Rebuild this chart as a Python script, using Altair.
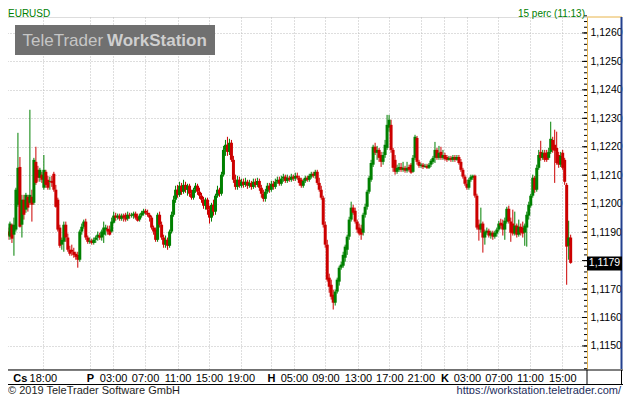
import altair as alt
import pandas as pd

# ---------------- data (EURUSD, 15-minute candles) ----------------
open_ = [
 1.11902,1.11884,1.11926,1.11891,1.11909,1.11996,1.12129,1.11926,1.12014,1.11979,
 1.12024,1.12003,1.12024,1.12003,1.12147,1.12119,1.12091,1.12102,1.12056,1.12112,
 1.12084,1.12077,1.12080,1.12105,1.12049,1.12014,1.11916,1.11856,1.11866,1.11926,
 1.11881,1.11838,1.11838,1.11831,1.11824,1.11820,1.11803,1.11902,1.11919,1.11937,
 1.11881,1.11866,1.11870,1.11862,1.11873,1.11881,1.11888,1.11881,1.11891,1.11909,
 1.11912,1.11909,1.11902,1.11933,1.11958,1.11951,1.11958,1.11947,1.11958,1.11961,
 1.11947,1.11961,1.11958,1.11958,1.11965,1.11954,1.11944,1.11958,1.11965,1.11975,
 1.11968,1.11961,1.11951,1.11916,1.11909,1.11873,1.11961,1.11926,1.11881,1.11856,
 1.11873,1.11852,1.11902,1.11961,1.12014,1.12049,1.12031,1.12063,1.12042,1.12066,
 1.12049,1.12063,1.12035,1.12021,1.12049,1.12063,1.12042,1.12028,1.12014,1.11993,
 1.12014,1.11979,1.11951,1.11996,1.11972,1.12028,1.12049,1.12035,1.12102,1.12189,
 1.12207,1.12182,1.12214,1.12154,1.12084,1.12059,1.12084,1.12063,1.12077,1.12066,
 1.12077,1.12063,1.12073,1.12059,1.12077,1.12066,1.12080,1.12056,1.12035,1.12017,
 1.12042,1.12063,1.12049,1.12070,1.12059,1.12077,1.12084,1.12070,1.12088,1.12095,
 1.12080,1.12091,1.12084,1.12095,1.12088,1.12098,1.12091,1.12084,1.12063,1.12080,
 1.12091,1.12084,1.12095,1.12105,1.12098,1.12112,1.12073,1.12049,1.12021,1.11926,
 1.11856,1.11740,1.11715,1.11680,1.11652,1.11691,1.11726,1.11775,1.11782,1.11810,
 1.11838,1.11884,1.11944,1.11986,1.11975,1.11937,1.11916,1.11912,1.11898,1.11961,
 1.11989,1.12042,1.12084,1.12137,1.12200,1.12179,1.12189,1.12171,1.12147,1.12171,
 1.12196,1.12267,1.12277,1.12189,1.12154,1.12112,1.12119,1.12129,1.12119,1.12126,
 1.12116,1.12129,1.12137,1.12112,1.12161,1.12231,1.12147,1.12133,1.12137,1.12129,
 1.12133,1.12126,1.12137,1.12147,1.12161,1.12189,1.12161,1.12182,1.12161,1.12171,
 1.12164,1.12154,1.12161,1.12154,1.12164,1.12154,1.12164,1.12147,1.12119,1.12095,
 1.12070,1.12056,1.12084,1.12091,1.12098,1.12028,1.11926,1.11909,1.11930,1.11881,
 1.11898,1.11905,1.11888,1.11898,1.11884,1.11895,1.11909,1.11933,1.11930,1.11909,
 1.11937,1.11982,1.11937,1.11930,1.11895,1.11923,1.11891,1.11919,1.11916,1.11898,
 1.11916,1.11958,1.11993,1.12028,1.12091,1.12049,1.12126,1.12182,1.12161,1.12179,
 1.12179,1.12161,1.12182,1.12224,1.12207,1.12196,1.12171,1.12137,1.12179,1.12154,
 1.12066,1.11852,1.11881]
high = [
 1.11916,1.11937,1.11930,1.11951,1.12056,1.12249,1.12164,1.12031,1.12031,1.12038,
 1.12031,1.12330,1.12049,1.12161,1.12200,1.12133,1.12126,1.12112,1.12171,1.12119,
 1.12098,1.12095,1.12098,1.12112,1.12066,1.12021,1.11926,1.11881,1.11937,1.11937,
 1.11895,1.11852,1.11856,1.11845,1.11831,1.11831,1.11909,1.11930,1.11944,1.11947,
 1.11888,1.11881,1.11877,1.11881,1.11888,1.11902,1.11898,1.11909,1.11937,1.11926,
 1.11923,1.11923,1.11951,1.11972,1.11968,1.11965,1.11965,1.11965,1.11965,1.11968,
 1.11972,1.11968,1.11968,1.11972,1.11972,1.11965,1.11965,1.11975,1.11982,1.11982,
 1.11979,1.11968,1.11958,1.11923,1.11916,1.11968,1.11972,1.11937,1.11891,1.11888,
 1.11881,1.11909,1.11972,1.12028,1.12063,1.12066,1.12077,1.12073,1.12084,1.12077,
 1.12070,1.12070,1.12049,1.12056,1.12073,1.12070,1.12056,1.12038,1.12024,1.12021,
 1.12021,1.11993,1.12003,1.12014,1.12035,1.12063,1.12056,1.12112,1.12203,1.12224,
 1.12235,1.12228,1.12224,1.12168,1.12102,1.12098,1.12095,1.12088,1.12088,1.12091,
 1.12084,1.12084,1.12080,1.12088,1.12088,1.12091,1.12088,1.12066,1.12049,1.12052,
 1.12073,1.12073,1.12080,1.12080,1.12088,1.12095,1.12095,1.12098,1.12105,1.12102,
 1.12102,1.12098,1.12105,1.12102,1.12109,1.12109,1.12098,1.12091,1.12088,1.12098,
 1.12098,1.12105,1.12112,1.12112,1.12119,1.12119,1.12091,1.12063,1.12028,1.11937,
 1.11873,1.11754,1.11733,1.11698,1.11698,1.11740,1.11782,1.11796,1.11831,1.11856,
 1.11891,1.11954,1.12007,1.11996,1.11986,1.11944,1.11930,1.11926,1.11968,1.12000,
 1.12049,1.12098,1.12154,1.12207,1.12214,1.12203,1.12196,1.12182,1.12182,1.12224,
 1.12312,1.12312,1.12295,1.12196,1.12171,1.12137,1.12143,1.12143,1.12147,1.12133,
 1.12147,1.12137,1.12143,1.12171,1.12242,1.12238,1.12154,1.12143,1.12143,1.12140,
 1.12140,1.12143,1.12157,1.12168,1.12217,1.12196,1.12203,1.12200,1.12189,1.12179,
 1.12171,1.12168,1.12168,1.12171,1.12171,1.12171,1.12171,1.12157,1.12126,1.12102,
 1.12084,1.12091,1.12102,1.12102,1.12102,1.12035,1.11944,1.11986,1.11937,1.11909,
 1.11916,1.11912,1.11905,1.11905,1.11905,1.11916,1.11940,1.11947,1.11944,1.11951,
 1.11989,1.11993,1.11951,1.11979,1.11972,1.11930,1.11944,1.11930,1.11937,1.11930,
 1.11972,1.12007,1.12035,1.12102,1.12098,1.12137,1.12189,1.12221,1.12189,1.12189,
 1.12189,1.12196,1.12288,1.12235,1.12260,1.12253,1.12182,1.12182,1.12189,1.12161,
 1.12073,1.11940,1.11891]
low = [
 1.11873,1.11873,1.11862,1.11817,1.11902,1.11989,1.11916,1.11881,1.11944,1.11968,
 1.11972,1.11996,1.11937,1.11996,1.12066,1.12077,1.12077,1.12073,1.12049,1.12056,
 1.12049,1.12049,1.12059,1.12042,1.11986,1.11902,1.11845,1.11838,1.11831,1.11866,
 1.11831,1.11817,1.11817,1.11810,1.11803,1.11775,1.11796,1.11891,1.11912,1.11873,
 1.11859,1.11859,1.11856,1.11856,1.11862,1.11870,1.11873,1.11870,1.11862,1.11888,
 1.11891,1.11888,1.11898,1.11930,1.11940,1.11944,1.11940,1.11940,1.11937,1.11937,
 1.11940,1.11947,1.11951,1.11947,1.11944,1.11937,1.11937,1.11951,1.11958,1.11961,
 1.11954,1.11937,1.11909,1.11891,1.11866,1.11866,1.11916,1.11873,1.11845,1.11845,
 1.11838,1.11845,1.11895,1.11954,1.12003,1.12021,1.12024,1.12031,1.12035,1.12038,
 1.12028,1.12024,1.12014,1.12014,1.12038,1.12031,1.12017,1.12003,1.11982,1.11979,
 1.11961,1.11930,1.11937,1.11958,1.11961,1.12021,1.12024,1.12028,1.12095,1.12168,
 1.12168,1.12171,1.12147,1.12073,1.12049,1.12049,1.12056,1.12056,1.12056,1.12059,
 1.12052,1.12056,1.12049,1.12052,1.12056,1.12059,1.12045,1.12021,1.12007,1.12007,
 1.12035,1.12038,1.12042,1.12049,1.12052,1.12070,1.12063,1.12063,1.12077,1.12073,
 1.12073,1.12077,1.12077,1.12080,1.12080,1.12084,1.12063,1.12056,1.12056,1.12073,
 1.12077,1.12077,1.12088,1.12091,1.12088,1.12066,1.12042,1.12014,1.11916,1.11845,
 1.11726,1.11687,1.11663,1.11628,1.11642,1.11684,1.11712,1.11768,1.11775,1.11796,
 1.11820,1.11873,1.11937,1.11961,1.11930,1.11898,1.11888,1.11873,1.11888,1.11951,
 1.11979,1.12035,1.12077,1.12129,1.12171,1.12154,1.12147,1.12129,1.12137,1.12161,
 1.12189,1.12253,1.12179,1.12112,1.12102,1.12105,1.12112,1.12112,1.12112,1.12109,
 1.12109,1.12112,1.12105,1.12109,1.12154,1.12137,1.12126,1.12126,1.12122,1.12126,
 1.12122,1.12122,1.12129,1.12140,1.12143,1.12154,1.12154,1.12154,1.12154,1.12151,
 1.12147,1.12151,1.12147,1.12147,1.12147,1.12151,1.12137,1.12112,1.12088,1.12063,
 1.12049,1.12049,1.12077,1.12084,1.12021,1.11909,1.11870,1.11898,1.11828,1.11856,
 1.11891,1.11881,1.11877,1.11873,1.11877,1.11884,1.11902,1.11912,1.11888,1.11873,
 1.11930,1.11930,1.11866,1.11888,1.11888,1.11881,1.11884,1.11888,1.11881,1.11852,
 1.11849,1.11944,1.11986,1.12021,1.12038,1.12042,1.12119,1.12151,1.12154,1.12147,
 1.12147,1.12154,1.12175,1.12179,1.12073,1.12137,1.12126,1.12129,1.12119,1.12066,
 1.11715,1.11803,1.11789]
close = [
 1.11888,1.11930,1.11877,1.11926,1.12049,1.12126,1.11919,1.12014,1.11961,1.12031,
 1.11986,1.12031,1.11996,1.12154,1.12073,1.12091,1.12119,1.12084,1.12119,1.12066,
 1.12056,1.12080,1.12073,1.12049,1.11989,1.11909,1.11852,1.11873,1.11926,1.11881,
 1.11838,1.11824,1.11831,1.11820,1.11813,1.11803,1.11902,1.11919,1.11937,1.11881,
 1.11866,1.11870,1.11862,1.11873,1.11881,1.11891,1.11881,1.11902,1.11916,1.11916,
 1.11902,1.11891,1.11937,1.11958,1.11951,1.11958,1.11947,1.11958,1.11951,1.11944,
 1.11961,1.11958,1.11961,1.11965,1.11951,1.11940,1.11958,1.11968,1.11975,1.11968,
 1.11961,1.11951,1.11916,1.11902,1.11873,1.11961,1.11926,1.11881,1.11856,1.11873,
 1.11852,1.11902,1.11961,1.12014,1.12049,1.12031,1.12063,1.12042,1.12066,1.12049,
 1.12063,1.12035,1.12021,1.12049,1.12063,1.12042,1.12028,1.12014,1.11993,1.12014,
 1.11979,1.11951,1.11996,1.11972,1.12028,1.12049,1.12035,1.12102,1.12189,1.12207,
 1.12182,1.12214,1.12154,1.12084,1.12059,1.12084,1.12063,1.12077,1.12066,1.12077,
 1.12063,1.12073,1.12059,1.12077,1.12066,1.12080,1.12056,1.12035,1.12017,1.12042,
 1.12063,1.12049,1.12070,1.12059,1.12077,1.12084,1.12070,1.12088,1.12095,1.12080,
 1.12091,1.12084,1.12095,1.12088,1.12098,1.12091,1.12073,1.12063,1.12080,1.12091,
 1.12084,1.12098,1.12105,1.12098,1.12112,1.12073,1.12049,1.12021,1.11926,1.11856,
 1.11733,1.11708,1.11673,1.11652,1.11691,1.11733,1.11775,1.11786,1.11820,1.11849,
 1.11884,1.11944,1.11986,1.11968,1.11937,1.11909,1.11895,1.11891,1.11961,1.11989,
 1.12042,1.12091,1.12143,1.12200,1.12179,1.12189,1.12161,1.12147,1.12171,1.12207,
 1.12277,1.12295,1.12189,1.12126,1.12112,1.12126,1.12129,1.12119,1.12126,1.12116,
 1.12126,1.12119,1.12109,1.12161,1.12235,1.12147,1.12133,1.12137,1.12129,1.12133,
 1.12126,1.12137,1.12151,1.12161,1.12189,1.12161,1.12179,1.12161,1.12171,1.12157,
 1.12154,1.12161,1.12154,1.12164,1.12154,1.12164,1.12143,1.12119,1.12095,1.12070,
 1.12056,1.12084,1.12095,1.12098,1.12028,1.11916,1.11909,1.11930,1.11881,1.11902,
 1.11905,1.11888,1.11898,1.11884,1.11898,1.11909,1.11930,1.11923,1.11909,1.11940,
 1.11982,1.11937,1.11898,1.11895,1.11923,1.11891,1.11919,1.11898,1.11895,1.11923,
 1.11961,1.11996,1.12028,1.12091,1.12049,1.12126,1.12171,1.12161,1.12179,1.12154,
 1.12154,1.12182,1.12228,1.12189,1.12186,1.12143,1.12137,1.12168,1.12126,1.12077,
 1.11849,1.11881,1.11792]

# time-axis ticks (candle index) and their labels
x_tick_pos = [5.9, 17.5, 41.1, 52.7, 68.7, 85, 100.7, 116.7, 131.8, 143.3, 159.1,
              175.4, 191.1, 206.9, 218.7, 230, 245.8, 261.6, 277.8]
x_tick_txt = ["Cs", "18:00", "P", "03:00", "07:00", "11:00", "15:00", "19:00", "H",
              "05:00", "09:00", "13:00", "17:00", "21:00", "K", "03:00", "07:00",
              "11:00", "15:00"]
day_marks = ["Cs", "P", "H", "K"]

y_label_vals = [1.115, 1.116, 1.117, 1.118, 1.119, 1.120, 1.121, 1.122, 1.123,
                1.124, 1.125, 1.126]
y_minor_vals = [round(1.1142 + 0.0002 * k, 4) for k in range(63)]

last_price = [1.1179]
last_price_txt = ["1,1179"]
header_left = ["EURUSD"]
header_right = ["15 perc (11:13)"]
footer_left = ["\u00a9 2019 TeleTrader Software GmbH"]
footer_right = ["https://workstation.teletrader.com/"]
wm_a = ["TeleTrader"]
wm_b = ["WorkStation"]

# ---------------- build ----------------
df = pd.DataFrame({"i": list(range(len(close))), "open": open_, "high": high,
                   "low": low, "close": close})
df["dir"] = ["up" if c > o else ("down" if c < o else "flat")
             for o, c in zip(open_, close)]

FONT = "Liberation Sans"
W, H = 587, 352          # plot area
RX = W                   # right panel starts here
RE = 622                 # right edge
xs = alt.Scale(domain=[-1.478, 287.68], nice=False, zero=False)
ys = alt.Scale(domain=[1.11419, 1.12656], nice=False, zero=False)
col = alt.Color("dir:N", legend=None,
                scale=alt.Scale(domain=["up", "down", "flat"],
                                range=["#008000", "#cc0000", "#808080"]))

day_pos = [p for p, t in zip(x_tick_pos, x_tick_txt) if t in day_marks]
label_expr = ("[" + ",".join("'%s'" % t for t in x_tick_txt) + "][indexof(["
              + ",".join(str(p) for p in x_tick_pos) + "], datum.value)]")
bold_test = "indexof([" + ",".join(str(p) for p in day_pos) + "], datum.value) >= 0"

x_axis = alt.Axis(values=x_tick_pos, labelExpr=label_expr, title=None, orient="bottom",
                  domain=False, ticks=False, tickSize=0, labelPadding=9,
                  labelBaseline="middle", labelFontSize=11, labelColor="black",
                  labelFont=FONT, labelOverlap=False, labelFlush=False,
                  grid=True, gridDash=[1, 2], gridWidth=1,
                  gridColor=alt.condition("datum.value == %s" % x_tick_pos[0],
                                          alt.value("transparent"), alt.value("#bdbdbd")),
                  labelFontWeight=alt.condition(bold_test, alt.value("bold"),
                                                alt.value("normal")))
# the label hidden behind the last-price box
hide_expr = " || ".join("abs(datum.value - %s) < 0.0003" % v for v in last_price)
y_axis = alt.Axis(values=y_label_vals, orient="right", title=None,
                  labelExpr="(%s) ? '' : replace(format(datum.value, '.4f'), '.', ',')" % hide_expr,
                  ticks=False, tickSize=0, domain=True, domainColor="#e8b44a",
                  domainWidth=1, labelPadding=3, labelFontSize=10.5, labelColor="black",
                  labelFont=FONT, labelOverlap=False, labelFlush=False,
                  labelBaseline="middle", grid=True, gridDash=[1, 2],
                  gridColor="#bdbdbd", gridWidth=1)

base = alt.Chart(df)
wicks = base.mark_rule(strokeWidth=1).encode(
    x=alt.X("i:Q", scale=xs, axis=x_axis),
    y=alt.Y("low:Q", scale=ys, axis=y_axis),
    y2="high:Q", color=col)
bodies = base.mark_bar(size=3).encode(
    x=alt.X("i:Q", scale=xs, axis=None),
    y=alt.Y("open:Q", scale=ys, axis=None),
    y2="close:Q", color=col)

one = pd.DataFrame({"k": [0]})

def hrule(y, x1, x2, color="black", w=1):
    return alt.Chart(one).mark_rule(color=color, strokeWidth=w).encode(
        x=alt.value(x1), x2=alt.value(x2), y=alt.value(y))

def vrule(x, y1, y2, color="black", w=1):
    return alt.Chart(one).mark_rule(color=color, strokeWidth=w).encode(
        x=alt.value(x), y=alt.value(y1), y2=alt.value(y2))

minor = alt.Chart(pd.DataFrame({"v": y_minor_vals})).mark_rule(color="black").encode(
    y=alt.Y("v:Q", scale=ys, axis=None), x=alt.value(RX - 3), x2=alt.value(RX))
major = alt.Chart(pd.DataFrame({"v": y_label_vals})).mark_rule(color="black").encode(
    y=alt.Y("v:Q", scale=ys, axis=None), x=alt.value(RX - 5), x2=alt.value(RX))

wm_rect = alt.Chart(one).mark_rect(color="#707070").encode(
    x=alt.value(15), x2=alt.value(215), y=alt.value(8), y2=alt.value(38))
wm_t1 = alt.Chart(pd.DataFrame({"t": wm_a})).mark_text(
    align="left", baseline="alphabetic", x=22.5, y=29, font=FONT, fontSize=17,
    color="#c6c6c6").encode(text="t:N")
wm_t2 = alt.Chart(pd.DataFrame({"t": wm_b})).mark_text(
    align="left", baseline="alphabetic", x=107, y=29, font=FONT, fontSize=17,
    fontWeight="bold", color="#cfcfcf").encode(text="t:N")

price_box = alt.Chart(pd.DataFrame({"p": last_price, "t": last_price_txt})).mark_tick(
    color="black", thickness=14, size=RE - RX, opacity=1).encode(
    y=alt.Y("p:Q", scale=ys, axis=None), x=alt.value((RX + RE) / 2))
price_txt = alt.Chart(pd.DataFrame({"p": last_price, "t": last_price_txt})).mark_text(
    color="white", font=FONT, fontSize=10.5, align="center", baseline="middle").encode(
    y=alt.Y("p:Q", scale=ys, axis=None), x=alt.value((RX + RE) / 2), text="t:N")

hdr_l = alt.Chart(pd.DataFrame({"t": header_left})).mark_text(
    align="left", baseline="alphabetic", x=8, y=0, font=FONT, fontSize=10,
    color="#008000").encode(text="t:N")
hdr_r = alt.Chart(pd.DataFrame({"t": header_right})).mark_text(
    align="right", baseline="alphabetic", x=585, y=0, font=FONT, fontSize=10,
    color="#008000").encode(text="t:N")
ftr_l = alt.Chart(pd.DataFrame({"t": footer_left})).mark_text(
    align="left", baseline="alphabetic", x=8, y=376.5, font=FONT, fontSize=11,
    color="#1e1e1e").encode(text="t:N")
ftr_r = alt.Chart(pd.DataFrame({"t": footer_right})).mark_text(
    align="right", baseline="alphabetic", x=621, y=376.5, font=FONT, fontSize=11,
    color="#1c2c5c").encode(text="t:N")

chart = alt.layer(
    wicks, bodies, minor, major,
    wm_rect, wm_t1, wm_t2,
    hrule(0, RX, RE, "#e8b44a"),
    vrule(RE - 0.5, 0, H, "#23408e", 2),
    hrule(H + 1, 0, RE + 1), hrule(H + 15.5, 0, RE + 1),
    vrule(RX, H + 1, H + 15.5), vrule(RE - 0.5, H + 1, H + 15.5),
    price_box, price_txt,
    hdr_l, hdr_r, ftr_l, ftr_r,
).resolve_axis(x="independent", y="independent").properties(
    width=W, height=H,
    autosize=alt.AutoSizeParams(type="none"),
    padding={"left": -8, "top": 9, "right": 615 - (W - 8), "bottom": 386 - 9 - H},
    background="white",
).configure_view(strokeWidth=0).configure(font=FONT)

chart.save("out.html", embed_options={"renderer": "svg", "actions": False})
